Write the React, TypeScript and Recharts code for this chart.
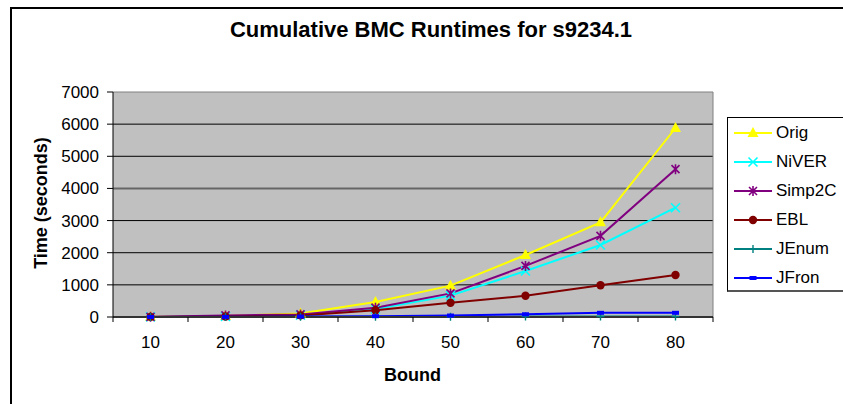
import React from "react";
import {
  CartesianGrid,
  Legend,
  Line,
  LineChart,
  ReferenceLine,
  XAxis,
  YAxis,
} from "recharts";

const bounds = [10, 20, 30, 40, 50, 60, 70, 80];
const orig = [5, 30, 110, 470, 975, 1930, 2945, 5880];
const niver = [3, 20, 60, 250, 665, 1430, 2240, 3400];
const simp2c = [4, 50, 80, 290, 735, 1590, 2525, 4600];
const ebl = [3, 15, 50, 210, 445, 660, 990, 1305];
const jenum = [0, 2, 5, 8, 10, 12, 15, 15];
const jfron = [2, 5, 15, 25, 45, 85, 130, 130];
const yTicks = [0, 1000, 2000, 3000, 4000, 5000, 6000, 7000];

const FONT = '"Liberation Sans", Arial, Helvetica, sans-serif';
const W = 843;
const H = 404;
const PLOT_W = 600;

type Marker = "triangle" | "cross" | "star" | "circle" | "plus" | "dash";

const series: { key: string; name: string; color: string; marker: Marker; values: number[] }[] = [
  { key: "orig", name: "Orig", color: "#ffff00", marker: "triangle", values: orig },
  { key: "niver", name: "NiVER", color: "#00ffff", marker: "cross", values: niver },
  { key: "simp2c", name: "Simp2C", color: "#800080", marker: "star", values: simp2c },
  { key: "ebl", name: "EBL", color: "#800000", marker: "circle", values: ebl },
  { key: "jenum", name: "JEnum", color: "#008080", marker: "plus", values: jenum },
  { key: "jfron", name: "JFron", color: "#0000ff", marker: "dash", values: jfron },
];

const data = bounds.map((b, i) => {
  const row: Record<string, number | string> = { bound: String(b) };
  series.forEach((s) => (row[s.key] = s.values[i]));
  return row;
});

function MarkerShape({ type, cx, cy, color }: { type: Marker; cx: number; cy: number; color: string }) {
  switch (type) {
    case "triangle":
      return <polygon points={`${cx},${cy - 6} ${cx - 5.5},${cy + 4} ${cx + 5.5},${cy + 4}`} fill={color} />;
    case "cross":
      return (
        <path
          d={`M${cx - 4.5},${cy - 4.5}L${cx + 4.5},${cy + 4.5}M${cx - 4.5},${cy + 4.5}L${cx + 4.5},${cy - 4.5}`}
          stroke={color}
          strokeWidth={1.6}
        />
      );
    case "star":
      return (
        <path
          d={`M${cx - 4},${cy - 4}L${cx + 4},${cy + 4}M${cx - 4},${cy + 4}L${cx + 4},${cy - 4}M${cx},${cy - 5}L${cx},${cy + 5}`}
          stroke={color}
          strokeWidth={1.6}
        />
      );
    case "circle":
      return <circle cx={cx} cy={cy} r={4.2} fill={color} />;
    case "plus":
      return (
        <path d={`M${cx - 4},${cy}L${cx + 4},${cy}M${cx},${cy - 4}L${cx},${cy + 4}`} stroke={color} strokeWidth={1.4} />
      );
    case "dash":
      return <rect x={cx - 3.5} y={cy - 2} width={7} height={4} fill={color} />;
  }
}

// category labels sit in the middle of each band, tick marks fall on band edges
function BoundTick(props: any) {
  const { x, y, payload, index, visibleTicksCount } = props;
  const half = PLOT_W / bounds.length / 2;
  const axisY = y - 19;
  return (
    <g>
      <line x1={x - half} y1={axisY} x2={x - half} y2={axisY + 5} stroke="#000" />
      {index === visibleTicksCount - 1 && (
        <line x1={x + half} y1={axisY} x2={x + half} y2={axisY + 5} stroke="#000" />
      )}
      <text x={x} y={y} dy="0.71em" textAnchor="middle" fill="#000" fontSize={17} fontFamily={FONT}>
        {payload.value}
      </text>
    </g>
  );
}

// legend keeps the series order instead of sorting by name
function LegendBox() {
  return (
    <div
      style={{
        width: 130,
        height: 175,
        boxSizing: "border-box",
        border: "1px solid #000",
        borderBottom: "2px solid #555",
        background: "#fff",
        fontFamily: FONT,
        fontSize: 17,
        color: "#000",
      }}
    >
      {series.map((s) => (
        <div key={s.key} style={{ height: 29, display: "flex", alignItems: "center" }}>
          <svg width={46} height={14} style={{ display: "block" }}>
            <line x1={6} y1={7} x2={44} y2={7} stroke={s.color} strokeWidth={2} />
            <MarkerShape type={s.marker} cx={25} cy={7} color={s.color} />
          </svg>
          <span style={{ marginLeft: 2, lineHeight: "20px" }}>{s.name}</span>
        </div>
      ))}
    </div>
  );
}

const boldText: React.CSSProperties = {
  position: "absolute",
  fontFamily: FONT,
  fontWeight: "bold",
  fontSize: 18,
  lineHeight: "22px",
  whiteSpace: "nowrap",
  color: "#000",
};

export default function App() {
  return (
    <div
      style={{
        position: "absolute",
        left: 0,
        top: 0,
        width: W,
        height: H,
        overflow: "hidden",
        background: "#fff",
      }}
    >
      <div
        style={{
          position: "absolute",
          left: 10,
          top: 7,
          width: 900,
          height: 500,
          border: "2px solid #000",
        }}
      />
      <LineChart width={W} height={H} data={data} margin={{ top: 92, right: 130, bottom: 57, left: 0 }}>
        <CartesianGrid
          vertical={false}
          horizontalValues={[1000, 2000, 3000, 5000, 6000]}
          stroke="#000"
          fill="#c0c0c0"
          fillOpacity={1}
        />
        {/* grey frame on the top and right of the plot area */}
        <CartesianGrid
          horizontalValues={[7000]}
          verticalCoordinatesGenerator={({ offset }: any) => [offset.left + offset.width]}
          stroke="#808080"
        />
        <ReferenceLine y={4000} stroke="#666" strokeWidth={2} />
        <XAxis
          dataKey="bound"
          height={30}
          padding={{ left: PLOT_W / bounds.length / 2, right: PLOT_W / bounds.length / 2 }}
          tickLine={false}
          tickSize={5}
          tickMargin={14}
          axisLine={{ stroke: "#333", strokeWidth: 2 }}
          tick={<BoundTick />}
          interval={0}
        />
        <YAxis
          width={113}
          domain={[0, 7000]}
          ticks={yTicks}
          interval={0}
          tickSize={6}
          tickMargin={8}
          axisLine={{ stroke: "#000" }}
          tickLine={{ stroke: "#000" }}
          tick={{ fill: "#000", fontSize: 17, fontFamily: FONT }}
        />
        <Legend
          layout="vertical"
          align="center"
          verticalAlign="middle"
          wrapperStyle={{ left: 727, top: 117, width: 130 }}
          content={<LegendBox />}
        />
        {series.map((s) => (
          <Line
            key={s.key}
            dataKey={s.key}
            name={s.name}
            stroke={s.color}
            strokeWidth={2}
            isAnimationActive={false}
            activeDot={false}
            dot={(p: any) => (
              <MarkerShape key={`${s.key}-${p.index}`} type={s.marker} cx={p.cx} cy={p.cy} color={s.color} />
            )}
          />
        ))}
      </LineChart>
      <div style={{ ...boldText, fontSize: 22, lineHeight: "26px", left: 0, width: 862, top: 17, textAlign: "center" }}>
        Cumulative BMC Runtimes for s9234.1
      </div>
      <div
        style={{
          ...boldText,
          left: 41,
          top: 203,
          transform: "translate(-50%, -50%) rotate(-90deg)",
        }}
      >
        Time (seconds)
      </div>
      <div style={{ ...boldText, left: 0, width: 825, top: 364, textAlign: "center" }}>Bound</div>
    </div>
  );
}
